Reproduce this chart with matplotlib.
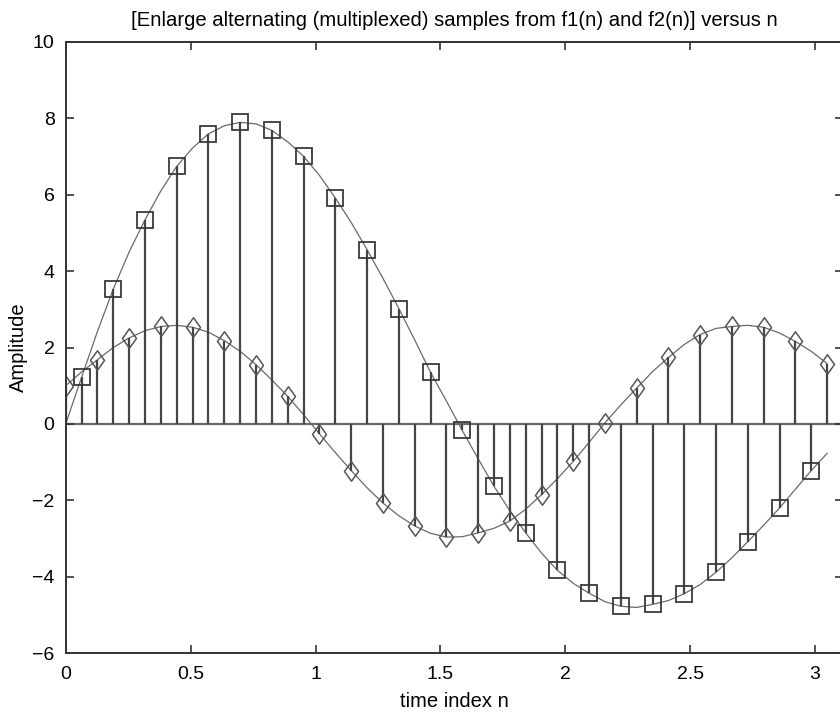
import numpy as np
import matplotlib
matplotlib.use("Agg")
import matplotlib.pyplot as plt
from matplotlib.path import Path

# ---------------- data ----------------
T = 0.0635                      # sampling step in n
sample_index = list(range(49))  # k = 0 .. 48

# f1 curve values at every sample k
f1_curve = [0.00, 1.22, 2.42, 3.53, 4.50, 5.34, 6.10, 6.74, 7.22, 7.59,
            7.80, 7.89, 7.85, 7.68, 7.38, 7.00, 6.50, 5.91, 5.27, 4.56,
            3.81, 3.02, 2.20, 1.35, 0.60, -0.17, -0.91, -1.63, -2.27, -2.85,
            -3.38, -3.83, -4.17, -4.43, -4.65, -4.77, -4.80, -4.72, -4.62, -4.44,
            -4.20, -3.88, -3.50, -3.08, -2.65, -2.20, -1.71, -1.22, -0.77]
# f2 curve values at every sample k
f2_curve = [1.00, 1.36, 1.68, 2.00, 2.25, 2.44, 2.55, 2.58, 2.53, 2.40,
            2.18, 1.90, 1.55, 1.15, 0.72, 0.24, -0.26, -0.75, -1.22, -1.67,
            -2.07, -2.40, -2.67, -2.86, -2.96, -2.95, -2.85, -2.73, -2.54, -2.23,
            -1.85, -1.43, -0.98, -0.48, 0.03, 0.50, 0.94, 1.37, 1.74, 2.08,
            2.34, 2.50, 2.55, 2.58, 2.53, 2.38, 2.16, 1.90, 1.58]

# multiplexed samples: odd k -> f1 (squares), even k -> f2 (diamonds)
f1_samples = [1.22, 3.53, 5.34, 6.74, 7.59, 7.89, 7.68, 7.00, 5.91, 4.56,
              3.02, 1.35, -0.17, -1.63, -2.85, -3.83, -4.43, -4.77, -4.72, -4.44,
              -3.88, -3.08, -2.20, -1.22]
f2_samples = [1.00, 1.68, 2.25, 2.55, 2.53, 2.18, 1.55, 0.72, -0.26, -1.22,
              -2.07, -2.67, -2.96, -2.85, -2.54, -1.85, -0.98, 0.03, 0.94, 1.74,
              2.34, 2.55, 2.53, 2.16, 1.58]

title_text = "[Enlarge alternating (multiplexed) samples from f1(n) and f2(n)] versus n"
xlabel_text = "time index n"
ylabel_text = "Amplitude"
xticks = [0, 0.5, 1, 1.5, 2, 2.5, 3]
xtick_labels = ["0", "0.5", "1", "1.5", "2", "2.5", "3"]
yticks = [-6, -4, -2, 0, 2, 4, 6, 8, 10]
ytick_labels = ["\u22126", "\u22124", "\u22122", "0", "2", "4", "6", "8", "10"]

# ---------------- plotting ----------------
plt.rcParams['font.family'] = ['Liberation Sans', 'DejaVu Sans']

n_all = np.array(sample_index) * T
n_f1 = n_all[1::2]
n_f2 = n_all[0::2]

W, H = 840, 712
fig = plt.figure(figsize=(W / 100, H / 100), dpi=100)
x0_px, top_px, bot_px = 65.7, 41.7, 653.3
px_per_unit = 249.8
xmax = 3.11
ax = fig.add_axes([x0_px / W, (H - bot_px) / H,
                   xmax * px_per_unit / W, (bot_px - top_px) / H])

stem_col = '#444444'
curve_col = '#6a6a6a'

ax.axhline(0, color='#6a6a6a', lw=1.6, zorder=1)
ax.plot(n_all, f1_curve, color=curve_col, lw=0.9, zorder=2)
ax.plot(n_all, f2_curve, color=curve_col, lw=0.9, zorder=2)

diamond = Path([(0, 1), (0.72, 0), (0, -1), (-0.72, 0), (0, 1)],
               [Path.MOVETO, Path.LINETO, Path.LINETO, Path.LINETO, Path.CLOSEPOLY])

m1, s1, b1 = ax.stem(n_f1, f1_samples, basefmt=' ')
plt.setp(s1, color=stem_col, linewidth=1.6)
plt.setp(m1, marker='s', markersize=11, markerfacecolor='none',
         markeredgecolor='#3a3a3a', markeredgewidth=1.3)

m2, s2, b2 = ax.stem(n_f2, f2_samples, basefmt=' ')
plt.setp(s2, color=stem_col, linewidth=1.6)
plt.setp(m2, marker=diamond, markersize=14, markerfacecolor='none',
         markeredgecolor='#555555', markeredgewidth=1.1)

ax.set_xlim(0, xmax)
ax.set_ylim(-6, 10)
ax.set_xticks(xticks)
ax.set_xticklabels(xtick_labels)
ax.set_yticks(yticks)
ax.set_yticklabels(ytick_labels)
ax.tick_params(direction='in', length=6, width=1.2, color='#333333',
               labelsize=14, top=True, right=True, pad=8)
ax.tick_params(axis='x', pad=9.5)
for sp in ax.spines.values():
    sp.set_color('#333333')
    sp.set_linewidth(1.4)

ax.set_title(title_text, fontsize=14.6, pad=11)
ax.set_xlabel(xlabel_text, fontsize=14.5, labelpad=6)
ax.set_ylabel(ylabel_text, fontsize=14.5, labelpad=3)

fig.savefig('out.png', dpi=100)
